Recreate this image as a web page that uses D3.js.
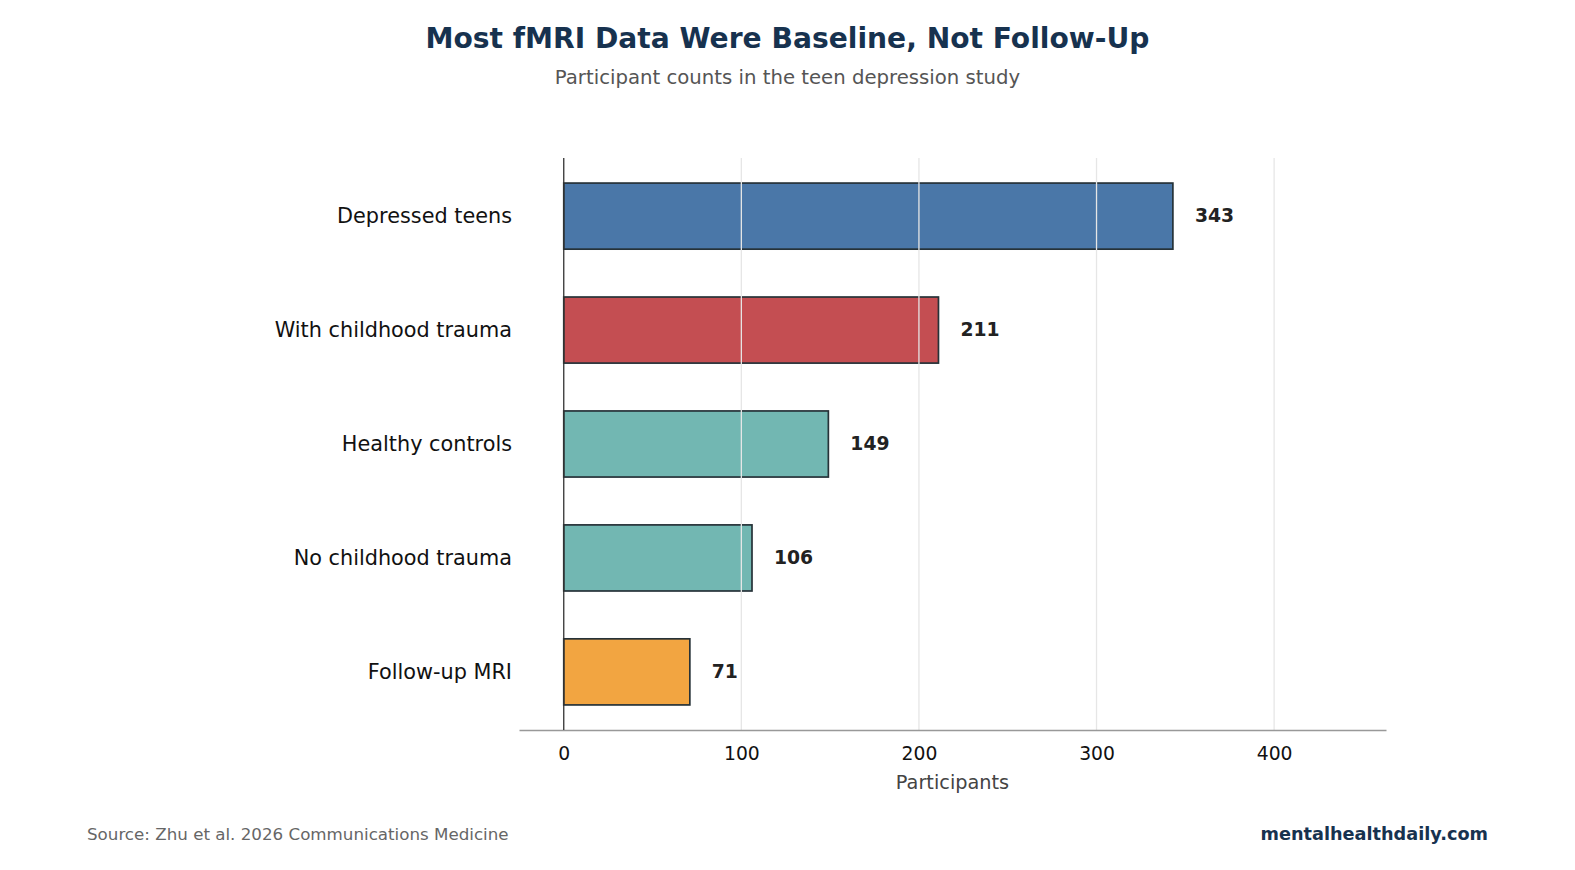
<!DOCTYPE html>
<html>
<head>
<meta charset="utf-8">
<script src="https://cdn.jsdelivr.net/npm/d3@7"></script>
<style>
  body { margin: 0; background: #fff; }
  svg text { font-family: "DejaVu Sans", sans-serif; }
</style>
</head>
<body>
<div id="chart"></div>
<script>
// data
const categories = ["Depressed teens", "With childhood trauma", "Healthy controls", "No childhood trauma", "Follow-up MRI"];
const counts = [343, 211, 149, 106, 71];
const barColors = ["#4a77a8", "#c44e52", "#72b7b2", "#72b7b2", "#f2a541"];
const xTicks = [0, 100, 200, 300, 400];

const width = 1575, height = 870;
const plot = {left: 519, right: 1386, top: 158, bottom: 730};

const svg = d3.select("#chart").append("svg")
    .attr("width", width)
    .attr("height", height);

// scales
const x = d3.scaleLinear().domain([-25.2, 463]).range([plot.left, plot.right]);
const y = d3.scaleBand().domain(categories)
    .range([plot.top, plot.bottom])
    .paddingInner(0.42)
    .paddingOuter(0.22);

// bars
svg.append("g").selectAll("rect")
    .data(categories)
    .join("rect")
    .attr("x", x(0))
    .attr("y", d => y(d))
    .attr("width", (d, i) => x(counts[i]) - x(0))
    .attr("height", y.bandwidth())
    .attr("fill", (d, i) => barColors[i])
    .attr("stroke", "#263238")
    .attr("stroke-width", 1.7);

// vertical grid, drawn over the bars like the original
svg.append("g").selectAll("line")
    .data(xTicks.filter(t => t > 0))
    .join("line")
    .attr("x1", d => x(d)).attr("x2", d => x(d))
    .attr("y1", plot.top).attr("y2", plot.bottom)
    .attr("stroke", "#e6e6e6")
    .attr("stroke-width", 1.3);

// bottom axis
const xAxis = d3.axisBottom(x).tickValues(xTicks).tickSize(0).tickPadding(17);
const gx = svg.append("g")
    .attr("transform", `translate(0,${plot.bottom})`)
    .call(xAxis);
gx.select(".domain").attr("stroke", "#999").attr("stroke-width", 1.6);
gx.selectAll(".tick text")
    .attr("font-size", "18.75px")
    .attr("fill", "#111")
    .attr("font-family", "DejaVu Sans, sans-serif");

// left spine at zero
svg.append("line")
    .attr("x1", x(0)).attr("x2", x(0))
    .attr("y1", plot.top).attr("y2", plot.bottom)
    .attr("stroke", "#333")
    .attr("stroke-width", 1.3);

// category labels
svg.append("g").selectAll("text")
    .data(categories)
    .join("text")
    .attr("x", 512)
    .attr("y", d => y(d) + y.bandwidth() / 2)
    .attr("dy", "0.35em")
    .attr("text-anchor", "end")
    .attr("font-size", "20.8px")
    .attr("fill", "#111")
    .text(d => d);

// value labels
svg.append("g").selectAll("text")
    .data(categories)
    .join("text")
    .attr("x", (d, i) => x(counts[i]) + 22)
    .attr("y", d => y(d) + y.bandwidth() / 2)
    .attr("dy", "0.33em")
    .attr("font-size", "18.75px")
    .attr("font-weight", "bold")
    .attr("fill", "#222")
    .text((d, i) => counts[i]);

// axis title
svg.append("text")
    .attr("x", (x(-25.2) + x(463)) / 2)
    .attr("y", 789)
    .attr("text-anchor", "middle")
    .attr("font-size", "19.3px")
    .attr("fill", "#444")
    .text("Participants");

// title + subtitle
svg.append("text")
    .attr("x", width / 2)
    .attr("y", 48)
    .attr("text-anchor", "middle")
    .attr("font-size", "28.15px")
    .attr("font-weight", "bold")
    .attr("fill", "#17324f")
    .text("Most fMRI Data Were Baseline, Not Follow-Up");

svg.append("text")
    .attr("x", width / 2)
    .attr("y", 84)
    .attr("text-anchor", "middle")
    .attr("font-size", "19.7px")
    .attr("fill", "#555")
    .text("Participant counts in the teen depression study");

// footer
svg.append("text")
    .attr("x", 87)
    .attr("y", 840)
    .attr("font-size", "16.7px")
    .attr("fill", "#666")
    .text("Source: Zhu et al. 2026 Communications Medicine");

svg.append("text")
    .attr("x", 1488)
    .attr("y", 840)
    .attr("text-anchor", "end")
    .attr("font-size", "17.7px")
    .attr("font-weight", "bold")
    .attr("fill", "#17324f")
    .text("mentalhealthdaily.com");
</script>
</body>
</html>
